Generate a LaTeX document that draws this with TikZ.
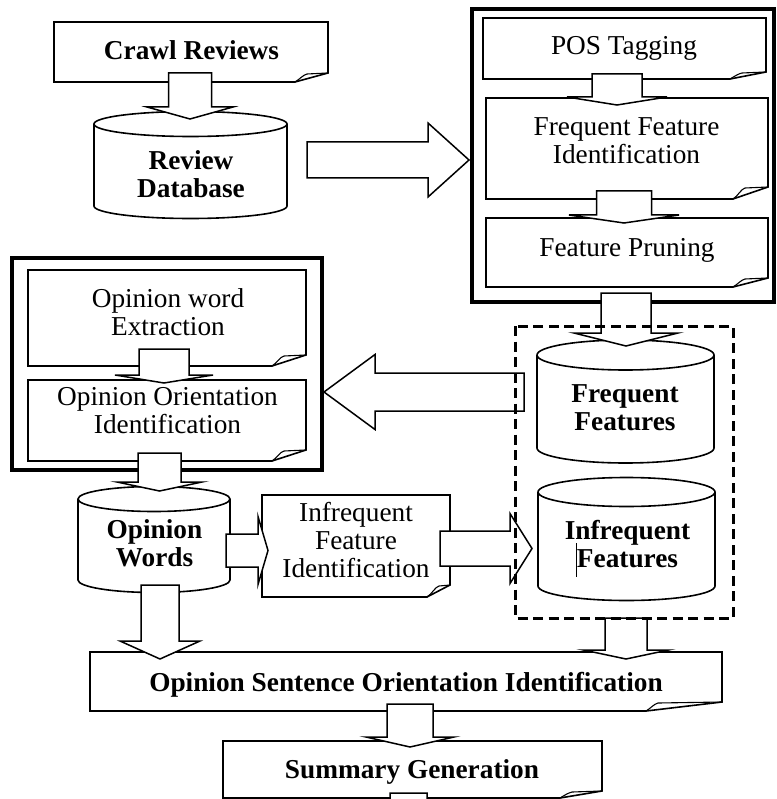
\documentclass[tikz,border=0pt]{standalone}
\usepackage{fontspec}
\setmainfont{Liberation Serif}
\usetikzlibrary{calc}

\tikzset{
  boxline/.style={line width=1.6pt, line join=miter},
  foldline/.style={line width=1.1pt},
  frameline/.style={line width=3.2pt},
  dashframe/.style={line width=3pt, dash pattern=on 10pt off 5.5pt},
  blockarr/.style={line width=1.5pt, fill=white, line join=miter},
  txt/.style={inner sep=0pt, align=center, font=\fontsize{27.3}{28}\selectfont},
  btxt/.style={txt, font=\fontsize{27.3}{28}\selectfont\bfseries},
}

% document box with a curled lower-right corner: name, left, top, right, bottom, curl x, rise
\newcommand\docbox[7]{%
  \path (#2,#3) coordinate (#1-nw) (#4,#5) coordinate (#1-se);
  \draw[boxline, fill=white] (#2,#3) -- (#4,#3) -- (#4,#5-#7) -- (#6,#5) -- (#2,#5) -- cycle;
  \draw[foldline] (#6,#5) .. controls (#6+5,#5-3) and (#6+8,#5-#7+2) .. (#6+12,#5-#7+1) -- (#4,#5-#7);
}

% database drum: name, centre x, x radius, top rim y, bottom rim y, rim radius
\newcommand\dbdrum[6]{%
  \path (#2,#4) coordinate (#1-top) (#2,#5) coordinate (#1-bot);
  \draw[boxline, fill=white] (#2-#3,#4) -- (#2-#3,#5)
      arc[start angle=180, end angle=0, x radius=#3, y radius=#6] -- (#2+#3,#4);
  \draw[boxline] (#2,#4) ellipse [x radius=#3, y radius=#6];
}

% hollow block arrows: start, tip, shaft half width, head half width, head length
\newcommand\arrdown[5]{%
  \draw[blockarr] let \p1=(#1), \p2=(#2) in
    (\x1-#3pt,\y1) -- (\x1+#3pt,\y1) -- (\x1+#3pt,\y2+#5pt) -- (\x1+#4pt,\y2+#5pt)
    -- (\x2,\y2) -- (\x1-#4pt,\y2+#5pt) -- (\x1-#3pt,\y2+#5pt) -- cycle;
}
\newcommand\arrright[5]{%
  \draw[blockarr] let \p1=(#1), \p2=(#2) in
    (\x1,\y1+#3pt) -- (\x2-#5pt,\y1+#3pt) -- (\x2-#5pt,\y1+#4pt) -- (\x2,\y2)
    -- (\x2-#5pt,\y1-#4pt) -- (\x2-#5pt,\y1-#3pt) -- (\x1,\y1-#3pt) -- cycle;
}
\newcommand\arrleft[5]{%
  \draw[blockarr] let \p1=(#1), \p2=(#2) in
    (\x1,\y1+#3pt) -- (\x2+#5pt,\y1+#3pt) -- (\x2+#5pt,\y1+#4pt) -- (\x2,\y2)
    -- (\x2+#5pt,\y1-#4pt) -- (\x2+#5pt,\y1-#3pt) -- (\x1,\y1-#3pt) -- cycle;
}

\begin{document}
\begin{tikzpicture}[x=1pt, y=-1pt]
\path[use as bounding box, clip] (0,0) rectangle (776,799);
\fill[white] (0,0) rectangle (776,799);

% group frames
\draw[frameline] (472,9) rectangle (774,302);
\draw[frameline] (12,258) rectangle (322,470);

% process boxes
\docbox{crawlbox}{54}{22}{328}{82}{295}{9}
\docbox{posbox}{483}{18}{766}{79}{730}{7}
\docbox{ffibox}{486}{98}{768}{199}{733}{12}
\docbox{fpbox}{486}{218}{768}{287}{733}{9}
\docbox{owebox}{28}{270}{306}{366}{272}{11}
\docbox{ooibox}{28}{380}{306}{461}{272}{11}
\docbox{ifibox}{262}{495}{450}{597}{427}{12}
\docbox{osoibox}{90}{652}{722}{711}{646}{9}
\docbox{summbox}{223}{741}{602}{798}{560}{7}

% data stores
\dbdrum{revdrum}{190.5}{96.5}{124}{206}{12.5}
\dbdrum{ffdrum}{625.5}{88.5}{355}{448}{15}
\dbdrum{inffdrum}{626.5}{88.5}{492}{586}{14.5}
\dbdrum{owdrum}{154}{76}{499}{580}{12.5}

% labels
\node[btxt] (crawl) at (191.5,50) {Crawl Reviews};
\node[btxt] (revdb) at (191,174) {Review\\Database};
\node[txt] (pos) at (624,48) {POS Tagging};
\node[txt] (ffi) at (626.5,141) {Frequent Feature\\Identification};
\node[txt] (fp) at (627,250) {Feature Pruning};
\node[txt] (owe) at (168,312.5) {Opinion word\\Extraction};
\node[txt] (ooi) at (167.5,411) {Opinion Orientation\\Identification};
\node[btxt] (ow) at (154.5,543) {Opinion\\Words};
\node[txt] (ifi) at (356,540.5) {Infrequent\\Feature\\Identification};
\node[btxt] (ff) at (625,407.5) {Frequent\\Features};
\node[btxt] (inff) at (627.5,544) {Infrequent\\Features};
\node[btxt] (osoi) at (406,685) {Opinion Sentence Orientation Identification};
\node[btxt] (summ) at (412,772) {Summary Generation};

% text cursor left in the label
\draw[line width=0.9pt] (576,543) -- (576,577);

% arrow end points
\coordinate (a1s) at (190,73);     \coordinate (a1t) at (190,119);
\coordinate (a2s) at (617,74);     \coordinate (a2t) at (617,105);
\coordinate (a3s) at (624,191);    \coordinate (a3t) at (624,223);
\coordinate (a4s) at (626,293);    \coordinate (a4t) at (626,346);
\coordinate (a5s) at (164,349);    \coordinate (a5t) at (164,383);
\coordinate (a6s) at (159.5,453);  \coordinate (a6t) at (159.5,491);
\coordinate (a7s) at (160,585);    \coordinate (a7t) at (160,659);
\coordinate (a8s) at (626,618);    \coordinate (a8t) at (626,659);
\coordinate (a9s) at (410,704);    \coordinate (a9t) at (410,747);
\coordinate (a10s) at (408.5,793); \coordinate (a10t) at (408.5,850);
\coordinate (b1s) at (307,160);    \coordinate (b1t) at (469,160);
\coordinate (b2s) at (524,392);    \coordinate (b2t) at (324,392);
\coordinate (b3s) at (226,550.5);  \coordinate (b3t) at (268,550.5);
\coordinate (b4s) at (440,548.5);  \coordinate (b4t) at (532,548.5);

% flow arrows
\arrdown{a1s}{a1t}{21.5}{43}{12}
\arrdown{a2s}{a2t}{25}{50}{8}
\arrdown{a3s}{a3t}{27.5}{55}{8}
\arrdown{a4s}{a4t}{25}{52}{13}
\arrdown{a5s}{a5t}{25}{49}{8}
\arrdown{a6s}{a6t}{21.5}{42.5}{9}
\arrdown{a7s}{a7t}{19}{40}{18}
\arrdown{a8s}{a8t}{21}{42.5}{9}
\arrdown{a9s}{a9t}{23}{44}{10}
\arrdown{a10s}{a10t}{18.5}{40}{20}
\arrright{b1s}{b1t}{18}{37}{41}
\arrleft{b2s}{b2t}{19}{37.5}{51}
\arrright{b3s}{b3t}{16.5}{34}{10}
\arrright{b4s}{b4t}{17.5}{35}{22}

% feature store group
\draw[dashframe] (515,326) rectangle (733,618);
\end{tikzpicture}
\end{document}
